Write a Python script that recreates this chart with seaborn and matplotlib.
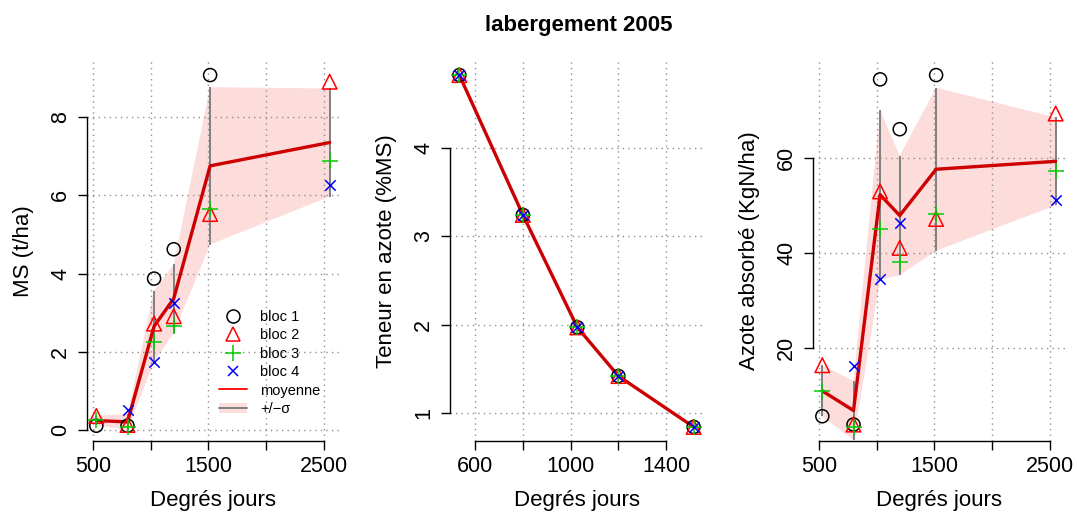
import matplotlib
matplotlib.use('Agg')
import matplotlib.pyplot as plt
from matplotlib.lines import Line2D
from matplotlib.patches import Patch
import numpy as np
import pandas as pd
import seaborn as sns

# Data (NaN = missing bloc)
dj = [530, 800, 1030, 1200, 1515, 2550]
ms_b1 = [0.11, 0.11, 3.87, 4.62, 9.07, np.nan]
ms_b2 = [0.36, 0.13, 2.72, 2.91, 5.52, 8.90]
ms_b3 = [0.26, 0.08, 2.26, 2.66, 5.66, 6.88]
ms_b4 = [np.nan, 0.51, 1.75, 3.25, np.nan, 6.26]

dj_n = [534, 800, 1028, 1200, 1515]
n_b1 = [4.82, 3.24, 1.97, 1.42, 0.845]
n_b2 = [4.82, 3.24, 1.97, 1.42, 0.845]
n_b3 = [4.82, 3.24, 1.97, 1.42, 0.845]
n_b4 = [4.82, 3.24, 1.97, 1.42, 0.845]

az_b1 = [5.55, 3.8, 76.5, 66.0, 77.4, np.nan]
az_b2 = [16.3, 3.8, 52.9, 41.0, 47.1, 69.3]
az_b3 = [10.8, 3.3, 45.0, 38.1, 48.2, 57.3]
az_b4 = [np.nan, 16.1, 34.4, 46.2, np.nan, 51.1]

blocs = ['bloc 1', 'bloc 2', 'bloc 3', 'bloc 4']
colors = ['black', '#FF0000', '#00CD00', '#0000FF']
markers = ['o', '^', '+', 'x']
msizes = [9.4, 10.5, 11, 7.5]

sns.set_style('white')
plt.rcParams['font.family'] = ['Liberation Sans', 'DejaVu Sans']
plt.rcParams['text.color'] = 'black'
plt.rcParams['axes.labelcolor'] = 'black'

RED = '#CC0000'
PINK = '#FDDCDC'
GRAY = '#808080'


def long_df(x, cols):
    rows = []
    for name, vals in zip(blocs, cols):
        for xi, v in zip(x, vals):
            rows.append({'dj': xi, 'bloc': name, 'val': v})
    return pd.DataFrame(rows)


def panel(ax, x, cols, yticks, xticks, xlabels, ylabel, ylab_x):
    df = long_df(x, cols)
    vals = df['val'].dropna()
    ext = 0.04 * (vals.max() - vals.min())
    ax.set_ylim(vals.min() - ext, vals.max() + ext)
    xe = 0.04 * (max(x) - min(x))
    ax.set_xlim(min(x) - xe, max(x) + xe)

    # mean line + sd band
    sns.lineplot(data=df, x='dj', y='val', estimator='mean', errorbar='sd',
                 color=RED, linewidth=2.4, zorder=2.5, ax=ax,
                 err_kws={'alpha': 1, 'linewidth': 0, 'zorder': 1})
    band = ax.collections[-1]
    band.set_facecolor(PINK)
    band.set_edgecolor('none')
    g = df.groupby('dj')['val']
    m, s = g.mean(), g.std()
    ax.vlines(m.index, m - s, m + s, color=GRAY, linewidth=1.4, zorder=1.8)

    for name, c, mk, sz in zip(blocs, colors, markers, msizes):
        sub = df[df['bloc'] == name]
        if mk in ('o', '^'):
            sns.scatterplot(data=sub, x='dj', y='val', marker=mk, s=sz ** 2,
                            facecolor='none', edgecolor=c, linewidth=1.1,
                            zorder=3, ax=ax, legend=False)
        else:
            sns.scatterplot(data=sub, x='dj', y='val', marker=mk, s=sz ** 2,
                            color=c, linewidth=1.1, zorder=3, ax=ax, legend=False)

    ax.set_xticks(xticks)
    ax.set_xticklabels(xlabels)
    ax.set_yticks(yticks)
    ax.set_yticklabels([str(t) for t in yticks], rotation=90, va='center')
    ax.grid(True, color='#909090', linestyle=(0, (1, 3)), linewidth=1.0)
    ax.set_axisbelow('line')
    for sp in ['top', 'right']:
        ax.spines[sp].set_visible(False)
    ax.spines['left'].set_bounds(yticks[0], yticks[-1])
    ax.spines['bottom'].set_bounds(xticks[0], xticks[-1])
    for sp in ['left', 'bottom']:
        ax.spines[sp].set_color('black')
        ax.spines[sp].set_linewidth(1.0)
    ax.tick_params(axis='both', direction='out', length=6.5, width=1.0,
                   labelsize=15.5, colors='black', left=True, bottom=True)
    ax.tick_params(axis='x', pad=4)
    ax.tick_params(axis='y', pad=5)
    ax.set_xlabel('Degrés jours', fontsize=16)
    ax.set_ylabel(ylabel, fontsize=16)
    ax.xaxis.set_label_coords(0.5, -0.13)
    ax.yaxis.set_label_coords(ylab_x, 0.5)


fig = plt.figure(figsize=(10.77, 5.13), dpi=100)
W, H = 1077, 513
bottom = (H - 441) / H
height = 380 / H
ax1 = fig.add_axes([87 / W, bottom, 252 / W, height])
ax2 = fig.add_axes([450 / W, bottom, 253 / W, height])
ax3 = fig.add_axes([813 / W, bottom, 252 / W, height])

panel(ax1, dj, [ms_b1, ms_b2, ms_b3, ms_b4], [0, 2, 4, 6, 8],
      [500, 1000, 1500, 2000, 2500], ['500', '', '1500', '', '2500'],
      'MS (t/ha)', -0.21)
panel(ax2, dj_n, [n_b1, n_b2, n_b3, n_b4], [1, 2, 3, 4],
      [600, 800, 1000, 1200, 1400], ['600', '', '1000', '', '1400'],
      'Teneur en azote (%MS)', -0.21)
panel(ax3, dj, [az_b1, az_b2, az_b3, az_b4], [20, 40, 60],
      [500, 1000, 1500, 2000, 2500], ['500', '', '1500', '', '2500'],
      'Azote absorbé (KgN/ha)', -0.21)

# legend in the first panel
handles = []
for c, mk, sz in zip(colors, markers, msizes):
    handles.append(Line2D([], [], linestyle='none', marker=mk, markersize=sz,
                          markerfacecolor='none', markeredgecolor=c,
                          markeredgewidth=1.1))
handles.append(Line2D([], [], color='#FF0000', linewidth=1.3))
handles.append((Patch(facecolor=PINK, edgecolor='none'),
                Line2D([], [], color=GRAY, linewidth=1.4)))
labels = blocs + ['moyenne', '+/\u2212\u03c3']
ax1.legend(handles, labels, loc='upper left', frameon=False, fontsize=10.5,
           bbox_to_anchor=(219 / W, 1 - 310 / H), bbox_transform=fig.transFigure,
           borderpad=0, borderaxespad=0, labelspacing=0.3, handlelength=1.9,
           handletextpad=0.9)

fig.text(0.537, 1 - 25 / H, 'labergement 2005', ha='center', va='center',
         fontsize=16, fontweight='bold')

fig.savefig('out.png', dpi=100)
